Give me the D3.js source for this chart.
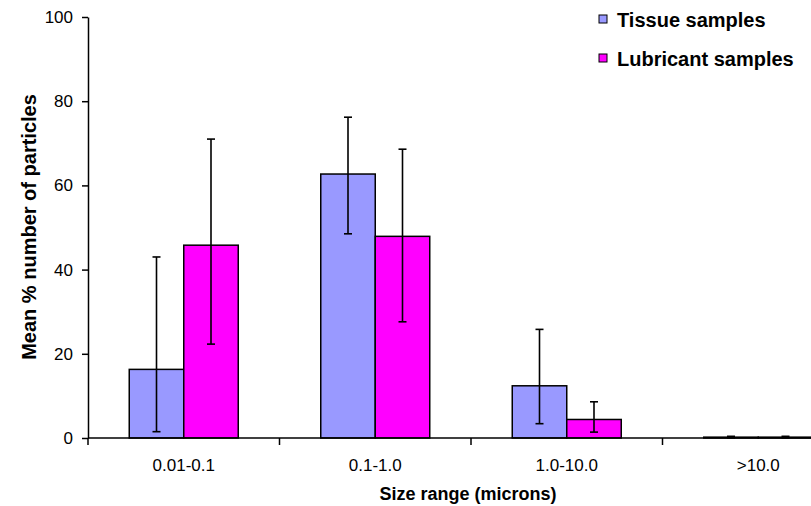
<!DOCTYPE html>
<html>
<head>
<meta charset="utf-8">
<script src="https://cdn.jsdelivr.net/npm/d3@7"></script>
<style>
  body { margin: 0; background: #fff; }
  svg { display: block; font-family: Arial, "Liberation Sans", sans-serif; }
</style>
</head>
<body>
<svg id="chart" width="811" height="506"></svg>
<script>
const categories = ['0.01-0.1', '0.1-1.0', '1.0-10.0', '>10.0'];
const seriesNames = ['Tissue samples', 'Lubricant samples'];
const seriesColors = ['#9999ff', '#ff00ff'];

// mean % values
const tissueMeans = [16.3, 62.7, 12.4, 0.2];
const lubricantMeans = [45.8, 47.9, 4.4, 0.2];

// error bar ends (absolute values)
const tissueUpper = [43.0, 76.2, 25.8, 0.4];
const tissueLower = [1.5, 48.5, 3.4, 0.05];
const lubricantUpper = [71.0, 68.6, 8.6, 0.4];
const lubricantLower = [22.3, 27.6, 1.4, 0.05];

const yTicks = [0, 20, 40, 60, 80, 100];

const rows = [];
categories.forEach(function(c, i) {
    rows.push({ cat: c, series: seriesNames[0], value: tissueMeans[i], hi: tissueUpper[i], lo: tissueLower[i] });
    rows.push({ cat: c, series: seriesNames[1], value: lubricantMeans[i], hi: lubricantUpper[i], lo: lubricantLower[i] });
});

const plotLeft = 88, plotTop = 17, plotBottom = 438, step = 191.5;

const svg = d3.select('#chart');

const x0 = d3.scaleBand()
             .domain(categories)
             .range([plotLeft, plotLeft + step * categories.length])
             .padding(0);

const x1 = d3.scaleBand()
             .domain(seriesNames)
             .range([0, x0.bandwidth()])
             .paddingInner(0)
             .paddingOuter(0.757);

const y = d3.scaleLinear()
            .domain([0, 100])
            .range([plotBottom, plotTop]);

const color = d3.scaleOrdinal(seriesNames, seriesColors);

// Bars
svg.append('g')
   .selectAll('rect')
   .data(rows)
   .join('rect')
   .attr('x', function(d) { return x0(d.cat) + x1(d.series); })
   .attr('y', function(d) { return y(d.value); })
   .attr('width', x1.bandwidth())
   .attr('height', function(d) { return y(0) - y(d.value); })
   .attr('fill', function(d) { return color(d.series); })
   .attr('stroke', '#000')
   .attr('stroke-width', 1.5);

// Error bars
const err = svg.append('g')
               .attr('stroke', '#000')
               .attr('stroke-width', 1.6)
               .selectAll('g')
               .data(rows)
               .join('g')
               .attr('transform', function(d) {
                   return 'translate(' + (x0(d.cat) + x1(d.series) + x1.bandwidth() / 2) + ',0)';
               });

err.append('line')
   .attr('y1', function(d) { return y(d.hi); })
   .attr('y2', function(d) { return y(d.lo); });

err.append('line')
   .attr('x1', -4).attr('x2', 4)
   .attr('y1', function(d) { return y(d.hi); })
   .attr('y2', function(d) { return y(d.hi); });

err.append('line')
   .attr('x1', -4).attr('x2', 4)
   .attr('y1', function(d) { return y(d.lo); })
   .attr('y2', function(d) { return y(d.lo); });

// Y axis
const yAxis = svg.append('g')
                 .attr('transform', 'translate(' + plotLeft + ',0)')
                 .call(d3.axisLeft(y).tickValues(yTicks).tickSize(6).tickSizeOuter(0).tickPadding(9));
yAxis.selectAll('text').attr('font-size', 17).attr('font-family', 'Arial, "Liberation Sans", sans-serif').attr('fill', '#000');
yAxis.select('.domain').attr('stroke', '#000').attr('stroke-width', 1.5);
yAxis.selectAll('.tick line').attr('stroke', '#000').attr('stroke-width', 1.5);

// X axis: labels at centres, ticks between categories
const xAxis = svg.append('g')
                 .attr('transform', 'translate(0,' + plotBottom + ')')
                 .call(d3.axisBottom(x0).tickSize(0).tickPadding(21));
xAxis.select('.domain').remove();
xAxis.selectAll('text').attr('font-size', 17).attr('font-family', 'Arial, "Liberation Sans", sans-serif').attr('fill', '#000');

svg.append('line')
   .attr('x1', plotLeft).attr('x2', x0.range()[1])
   .attr('y1', plotBottom).attr('y2', plotBottom)
   .attr('stroke', '#000').attr('stroke-width', 1.5);

svg.append('g')
   .selectAll('line')
   .data(categories)
   .join('line')
   .attr('x1', function(d) { return x0(d); })
   .attr('x2', function(d) { return x0(d); })
   .attr('y1', plotBottom)
   .attr('y2', plotBottom + 7)
   .attr('stroke', '#000')
   .attr('stroke-width', 1.5);

// Axis titles
svg.append('text')
   .attr('x', 468)
   .attr('y', 500)
   .attr('text-anchor', 'middle')
   .attr('font-size', 18)
   .attr('font-weight', 'bold')
   .text('Size range (microns)');

svg.append('text')
   .attr('transform', 'translate(36,227) rotate(-90)')
   .attr('text-anchor', 'middle')
   .attr('font-size', 20)
   .attr('font-weight', 'bold')
   .text('Mean % number of particles');

// Legend
const legend = svg.append('g')
                  .selectAll('g')
                  .data(seriesNames)
                  .join('g')
                  .attr('transform', function(d, i) { return 'translate(599,' + (15 + i * 39) + ')'; });

legend.append('rect')
      .attr('width', 8)
      .attr('height', 8)
      .attr('fill', function(d) { return color(d); })
      .attr('stroke', '#000')
      .attr('stroke-width', 1);

legend.append('text')
      .attr('x', 18)
      .attr('y', 11.5)
      .attr('font-size', 20)
      .attr('font-weight', 'bold')
      .text(function(d) { return d; });
</script>
</body>
</html>
